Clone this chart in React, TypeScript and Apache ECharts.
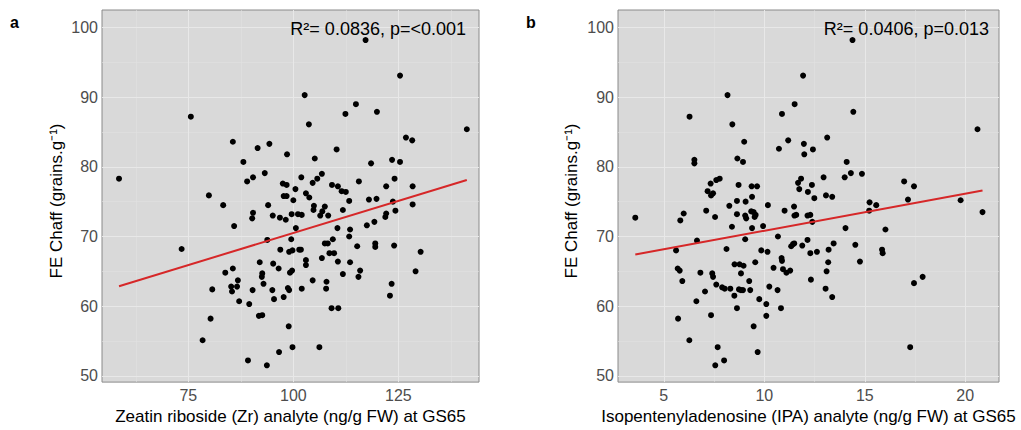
import { useEffect, useRef } from "react";
import * as echarts from "echarts";

// Panel a: Zeatin riboside (Zr) vs FE Chaff
const zrPoints: number[][] = [
  [58.5, 78.3], [75.6, 87.2], [85.6, 83.6], [88.1, 80.7], [91.5, 82.7], [89.0, 77.9], [90.4, 78.5], [79.9, 75.9],
  [117.2, 98.2], [125.4, 93.1], [102.7, 90.3], [114.9, 89.0], [112.4, 87.6], [119.9, 87.9], [103.7, 86.1], [141.3, 85.4],
  [126.8, 84.2], [128.3, 83.8], [94.3, 83.3], [98.5, 81.8], [110.3, 82.5], [105.1, 81.2], [118.5, 80.5], [123.5, 81.0],
  [125.4, 80.7], [93.2, 79.1], [97.5, 77.6], [98.4, 77.4], [101.9, 78.5], [100.5, 76.8], [104.6, 77.7], [105.7, 78.3],
  [106.8, 79.0], [109.2, 77.4], [110.6, 77.2], [111.5, 76.5], [112.5, 76.4], [115.6, 77.9], [122.1, 77.2], [124.1, 78.3],
  [128.4, 77.2], [97.7, 75.8], [98.4, 75.8], [103.0, 76.2], [103.8, 75.6], [100.0, 75.2], [83.3, 74.5], [94.0, 74.5],
  [90.4, 73.4], [90.2, 72.6], [95.1, 73.0], [96.8, 72.7], [98.2, 72.4], [99.6, 73.2], [101.1, 73.2], [102.0, 73.1],
  [85.9, 71.5], [100.6, 71.2], [93.8, 69.5], [99.5, 69.6], [73.4, 68.2], [96.9, 68.1], [99.0, 67.8], [99.8, 68.0],
  [101.4, 68.1], [92.0, 66.3], [95.2, 66.1], [96.5, 65.4], [99.7, 65.1], [99.2, 64.8], [85.6, 65.4], [83.8, 64.8],
  [92.6, 64.7], [92.5, 64.2], [86.8, 63.7], [92.9, 63.2], [80.7, 62.4], [85.2, 62.8], [85.4, 62.1], [86.6, 62.8],
  [90.3, 62.3], [95.0, 62.3], [98.7, 62.6], [99.0, 62.3], [87.1, 60.7], [89.5, 60.3], [95.4, 61.0], [97.7, 61.3],
  [80.3, 58.2], [91.8, 58.6], [92.6, 58.7], [98.9, 57.1], [78.4, 55.1], [99.8, 54.1], [96.6, 53.4], [89.2, 52.2],
  [93.7, 51.5], [104.9, 74.4], [104.8, 73.8], [106.9, 73.6], [107.5, 74.3], [106.4, 73.0], [108.3, 73.0], [113.3, 75.1],
  [111.8, 73.8], [118.0, 75.3], [119.8, 75.4], [123.7, 75.0], [122.1, 73.3], [121.9, 72.8], [124.3, 73.7], [128.4, 74.6],
  [101.8, 68.1], [110.5, 71.2], [113.5, 71.0], [113.3, 70.0], [109.4, 69.6], [117.5, 71.6], [119.3, 72.1], [107.5, 69.0],
  [108.2, 69.0], [115.2, 68.6], [119.5, 69.0], [119.5, 68.5], [124.0, 68.7], [130.3, 67.8], [106.8, 66.9], [108.6, 67.6],
  [109.7, 67.6], [110.6, 66.4], [113.5, 66.3], [103.0, 66.6], [103.0, 65.9], [111.8, 64.6], [115.9, 65.1], [115.5, 64.2],
  [104.6, 63.7], [107.9, 63.5], [107.8, 62.5], [102.0, 62.5], [123.4, 63.2], [123.0, 61.5], [129.1, 65.0], [109.1, 59.7],
  [110.7, 59.7], [106.2, 54.1],
];

// Panel b: Isopentenyladenosine (IPA) vs FE Chaff
const ipaPoints: number[][] = [
  [6.28, 87.2], [8.17, 90.3], [8.41, 86.1], [9.0, 83.6], [8.66, 81.2], [8.94, 80.7], [6.52, 81.0], [6.52, 80.5],
  [8.72, 77.4], [9.37, 77.2], [9.64, 77.2], [7.33, 77.6], [7.61, 78.1], [7.78, 78.3], [7.18, 76.5], [7.45, 76.2],
  [7.35, 75.9], [14.39, 98.2], [11.93, 93.1], [11.51, 89.0], [10.88, 87.6], [14.43, 87.9], [20.61, 85.4], [11.19, 83.8],
  [10.73, 82.6], [11.97, 83.3], [13.13, 84.2], [11.99, 81.8], [12.42, 82.5], [14.1, 80.7], [14.31, 79.1], [14.86, 79.0],
  [14.0, 78.5], [12.95, 78.5], [11.83, 78.3], [11.68, 77.7], [12.37, 77.4], [11.74, 76.8], [12.17, 76.4], [16.96, 77.9],
  [17.45, 77.2], [3.58, 72.7], [9.07, 75.0], [8.64, 75.1], [9.39, 75.7], [9.47, 73.5], [9.57, 73.1], [9.52, 72.8],
  [9.35, 73.6], [9.05, 73.0], [9.1, 72.6], [8.64, 73.2], [8.26, 74.4], [10.18, 74.5], [11.01, 73.7], [11.48, 74.3],
  [11.5, 73.0], [11.59, 73.1], [12.15, 73.0], [12.29, 73.1], [7.11, 73.7], [5.99, 73.3], [5.82, 72.3], [7.55, 72.8],
  [8.39, 71.4], [9.39, 71.2], [9.94, 71.5], [9.05, 69.6], [10.68, 70.0], [6.65, 69.4], [5.61, 68.0], [8.12, 68.2],
  [9.85, 68.0], [10.16, 67.8], [11.89, 68.7], [11.34, 68.6], [11.43, 68.9], [11.49, 69.0], [12.15, 69.5], [12.29, 67.6],
  [5.69, 65.4], [5.79, 65.1], [8.52, 66.0], [8.77, 66.0], [8.97, 65.8], [9.55, 66.3], [10.86, 66.9], [10.88, 66.5],
  [10.46, 65.5], [10.93, 65.3], [11.1, 64.8], [11.29, 65.1], [6.82, 64.8], [7.41, 64.7], [7.45, 64.2], [8.84, 64.7],
  [5.92, 63.6], [7.61, 63.1], [7.9, 62.7], [8.03, 62.5], [8.31, 62.5], [7.05, 62.1], [8.51, 61.5], [8.74, 62.4],
  [8.84, 62.3], [8.94, 62.3], [9.25, 63.6], [9.3, 62.3], [10.25, 62.8], [10.66, 62.3], [6.62, 60.7], [8.64, 59.7],
  [9.75, 61.0], [10.1, 60.3], [10.83, 59.7], [5.71, 58.2], [7.35, 58.7], [10.1, 58.6], [9.47, 57.1], [6.27, 55.1],
  [7.68, 54.1], [9.67, 53.4], [8.0, 52.2], [7.56, 51.5], [12.49, 75.5], [13.07, 75.9], [13.38, 75.7], [12.39, 72.1],
  [14.04, 71.2], [15.24, 74.9], [15.57, 74.5], [15.22, 73.7], [16.03, 71.0], [17.15, 75.3], [19.77, 75.2], [20.86, 73.5],
  [12.62, 67.8], [13.2, 68.1], [13.45, 69.0], [14.53, 68.8], [14.76, 66.4], [13.18, 66.3], [13.1, 65.0], [15.86, 68.1],
  [15.89, 67.6], [12.32, 63.8], [13.05, 62.5], [13.38, 61.3], [17.45, 63.3], [17.88, 64.2], [17.26, 54.1],
];

// Fitted regression lines (endpoints)
const zrFit: number[][] = [[58.5, 62.86], [141.3, 78.1]];
const ipaFit: number[][] = [[3.58, 67.4], [20.86, 76.6]];

// Tick values
const yTicks = [50, 60, 70, 80, 90, 100];
const yMinor = [55, 65, 75, 85, 95];
const zrTicks = [75, 100, 125];
const zrMinor = [62.5, 87.5, 112.5, 137.5];
const ipaTicks = [5, 10, 15, 20];
const ipaMinor = [7.5, 12.5, 17.5];

const statsA = "R\u00B2= 0.0836, p=<0.001";
const statsB = "R\u00B2= 0.0406, p=0.013";
const yTitle = "FE Chaff (grains.g\u207B\u00B9)";
const xTitleA = "Zeatin riboside (Zr) analyte (ng/g FW) at GS65";
const xTitleB = "Isopentenyladenosine (IPA) analyte (ng/g FW) at GS65";

const FONT = "Liberation Sans, Arial, sans-serif";

function gridLines(xMajor: number[], xMinor: number[]) {
  const major = { color: "#E8E8E8", width: 1, type: "solid" as const };
  const minor = { color: "#E0E0E0", width: 0.6, type: "solid" as const };
  return [
    ...xMinor.map((v) => ({ xAxis: v, lineStyle: minor })),
    ...yMinor.map((v) => ({ yAxis: v, lineStyle: minor })),
    ...xMajor.map((v) => ({ xAxis: v, lineStyle: major })),
    ...yTicks.map((v) => ({ yAxis: v, lineStyle: major })),
  ];
}

export default function App() {
  const ref = useRef<HTMLDivElement>(null);
  useEffect(() => {
    if (!ref.current) return;
    const chart = echarts.init(ref.current, undefined, { renderer: "svg" });
    const gridBase = {
      show: true,
      backgroundColor: "#D9D9D9",
      borderColor: "#8A8A8A",
      borderWidth: 1,
      containLabel: false,
    };
    const xAxisBase = (min: number, max: number, ticks: number[], name: string, idx: number) => ({
      type: "value" as const,
      gridIndex: idx,
      min,
      max,
      axisLine: { show: false },
      splitLine: { show: false },
      axisTick: { show: false, customValues: ticks },
      axisLabel: { customValues: ticks, color: "#4D4D4D", fontSize: 16, fontFamily: FONT, margin: 5 },
      name,
      nameLocation: "middle" as const,
      nameGap: 23,
      nameTextStyle: { color: "#000", fontSize: 17, fontFamily: FONT },
    });
    const yAxisBase = (idx: number) => ({
      type: "value" as const,
      gridIndex: idx,
      min: 49.09,
      max: 102.52,
      axisLine: { show: false },
      splitLine: { show: false },
      axisTick: { show: false, customValues: yTicks },
      axisLabel: { customValues: yTicks, color: "#4D4D4D", fontSize: 16, fontFamily: FONT, margin: 4 },
    });
    const markBase = { silent: true, symbol: "none", label: { show: false }, animation: false, z: 1 };
    chart.setOption({
      animation: false,
      grid: [
        { ...gridBase, left: 102, top: 10, width: 377, height: 382 },
        { ...gridBase, left: 618, top: 10, width: 381, height: 382 },
      ],
      xAxis: [
        xAxisBase(54.45, 144.2, zrTicks, xTitleA, 0),
        xAxisBase(2.72, 21.68, ipaTicks, xTitleB, 1),
      ],
      yAxis: [yAxisBase(0), yAxisBase(1)],
      series: [
        {
          type: "scatter",
          xAxisIndex: 0,
          yAxisIndex: 0,
          data: [],
          z: 1,
          silent: true,
          markLine: { ...markBase, data: gridLines(zrTicks, zrMinor) },
        },
        {
          type: "scatter",
          xAxisIndex: 1,
          yAxisIndex: 1,
          data: [],
          z: 1,
          silent: true,
          markLine: { ...markBase, data: gridLines(ipaTicks, ipaMinor) },
        },
        {
          type: "scatter",
          xAxisIndex: 0,
          yAxisIndex: 0,
          data: zrPoints,
          symbolSize: 6,
          itemStyle: { color: "#000", opacity: 1 },
          z: 3,
        },
        {
          type: "scatter",
          xAxisIndex: 1,
          yAxisIndex: 1,
          data: ipaPoints,
          symbolSize: 6,
          itemStyle: { color: "#000", opacity: 1 },
          z: 3,
        },
        {
          type: "line",
          xAxisIndex: 0,
          yAxisIndex: 0,
          data: zrFit,
          showSymbol: false,
          symbol: "none",
          lineStyle: { color: "#D62728", width: 2 },
          z: 4,
        },
        {
          type: "line",
          xAxisIndex: 1,
          yAxisIndex: 1,
          data: ipaFit,
          showSymbol: false,
          symbol: "none",
          lineStyle: { color: "#D62728", width: 2 },
          z: 4,
        },
      ],
      graphic: [
        { type: "text", left: 10, top: 14, style: { text: "a", font: `bold 16px ${FONT}`, fill: "#000" } },
        { type: "text", left: 526, top: 14, style: { text: "b", font: `bold 16px ${FONT}`, fill: "#000" } },
        {
          type: "text",
          x: 466,
          y: 29,
          style: { text: statsA, font: `18px ${FONT}`, fill: "#000", textAlign: "right", textVerticalAlign: "middle" },
          z: 10,
        },
        {
          type: "text",
          x: 989,
          y: 29,
          style: { text: statsB, font: `18px ${FONT}`, fill: "#000", textAlign: "right", textVerticalAlign: "middle" },
          z: 10,
        },
        {
          type: "text",
          x: 56,
          y: 201,
          rotation: Math.PI / 2,
          style: { text: yTitle, font: `17px ${FONT}`, fill: "#000", textAlign: "center", textVerticalAlign: "middle" },
        },
        {
          type: "text",
          x: 571,
          y: 201,
          rotation: Math.PI / 2,
          style: { text: yTitle, font: `17px ${FONT}`, fill: "#000", textAlign: "center", textVerticalAlign: "middle" },
        },
      ],
    });
    return () => chart.dispose();
  }, []);
  return (
    <div
      ref={ref}
      style={{ position: "absolute", left: 0, top: 0, width: 1021, height: 430, background: "#fff" }}
    />
  );
}
